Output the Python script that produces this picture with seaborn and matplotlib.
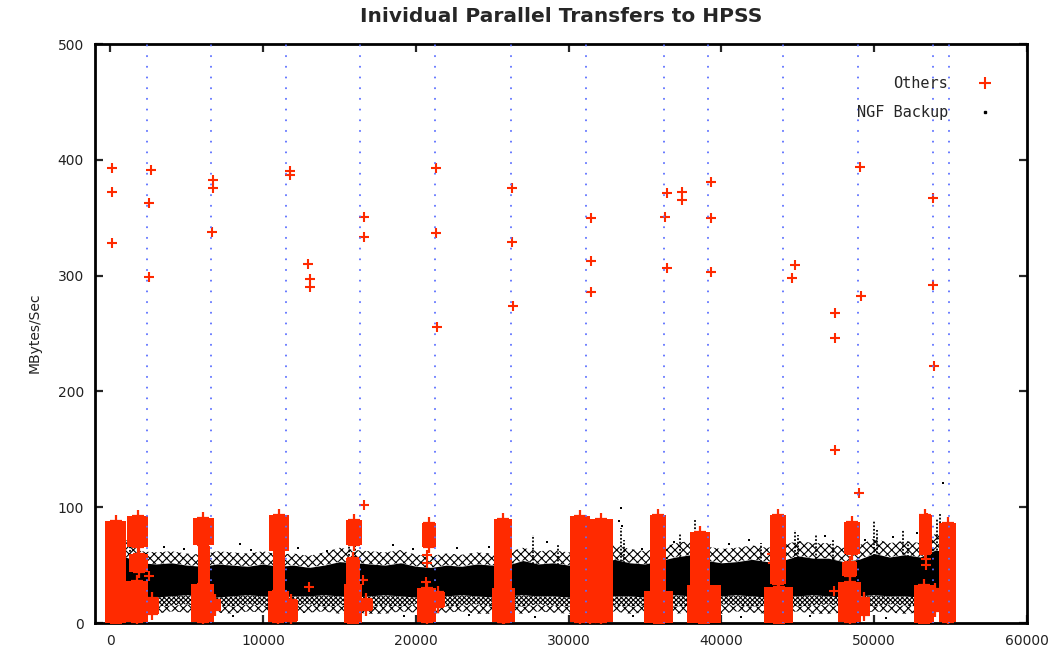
import numpy as np
import pandas as pd
import matplotlib
matplotlib.use('Agg')
import matplotlib.pyplot as plt
from matplotlib.lines import Line2D
import seaborn as sns

# ---- Others: single transfers well above the backup band (x = transfer #, y = MB/s)
others_x = [100, 100, 100, 2640, 2520, 2540, 6710, 6700, 6680, 11760, 11760,
            12960, 13040, 13040, 16580, 16580, 16620, 21330, 21330, 21400,
            26310, 26310, 26350, 31450, 31450, 31450, 36450, 36320, 36450,
            37450, 37450, 39310, 39310, 39310, 44810, 44590, 47450, 47430, 47450,
            49100, 49140, 49020, 53860, 53860, 53900,
            2550, 13020, 16560, 20700, 20700, 20650, 38400, 43300, 43350,
            47380, 53400, 53400, 53470]
others_y = [393, 372, 328, 391, 363, 299, 383, 376, 338, 390, 387,
            310, 297, 290, 351, 333, 102, 393, 337, 256,
            376, 329, 274, 350, 313, 286, 371, 351, 307,
            372, 365, 381, 350, 303, 309, 298, 268, 246, 149,
            394, 282, 112, 367, 292, 222,
            41, 31, 37, 59, 52, 35, 37, 60, 52,
            28, 55, 50, 91]

# ---- Others: dense bursts of transfers, read as vertical blocks (centre, width, low, high)
burst_x = [350, 1800, 1850, 1750, 2700, 6100, 6150, 6050, 6850, 11050, 11050,
           11000, 11800, 15950, 15900, 15900, 16750, 20850, 20700, 21450, 25700,
           25750, 30770, 32130, 31370, 35850, 35900, 38600, 38850, 43700, 43750,
           48550, 48400, 48400, 49300, 53350, 53250, 54000, 54800]
burst_w = [1350, 1400, 1200, 1500, 1000, 1400, 800, 1500, 800, 1300, 800,
           1400, 1000, 1100, 900, 1200, 900, 900, 1300, 900, 1200,
           1500, 1300, 1600, 300, 1100, 1900, 1300, 2200, 1100, 1900,
           1100, 1000, 1500, 900, 900, 1300, 800, 1100]
burst_lo = [0, 66, 44, 1, 8, 67, 33, 1, 11, 62, 28,
            1, 2, 67, 30, 0, 11, 66, 1, 14, 1,
            1, 1, 1, 1, 28, 0, 31, 0, 34, 0,
            60, 41, 1, 7, 60, 0, 10, 1]
burst_hi = [88, 92, 60, 36, 22, 91, 66, 34, 20, 93, 62,
            28, 20, 89, 56, 34, 21, 86, 30, 27, 90,
            30, 92, 90, 80, 93, 28, 79, 33, 93, 31,
            87, 53, 35, 22, 93, 33, 29, 86]

# ---- NGF Backup: the dense cloud, read per 1000 transfers
band_x = list(range(0, 56000, 1000))
top_sparse = [64, 72, 62, 61, 62, 60, 59, 62,
              61, 60, 62, 59, 60, 58, 61, 65,
              63, 62, 61, 63, 59, 58, 60, 59,
              61, 60, 61, 65, 62, 63, 61, 62,
              63, 67, 64, 62, 65, 69, 71, 66,
              64, 65, 67, 65, 67, 71, 69, 69,
              65, 67, 73, 69, 71, 69, 77, 73]
top_solid = [53, 57, 52, 51, 52, 50, 49, 51,
             50, 49, 51, 49, 50, 48, 50, 53,
             52, 51, 50, 52, 49, 48, 50, 49,
             51, 50, 50, 54, 51, 52, 50, 51,
             52, 55, 52, 51, 54, 57, 59, 54,
             52, 53, 55, 53, 54, 58, 56, 56,
             53, 55, 60, 57, 59, 57, 63, 61]
bot_solid = [23, 24, 23, 22, 23, 24, 23, 22,
             23, 24, 23, 22, 23, 23, 24, 23,
             22, 23, 24, 23, 22, 23, 23, 24,
             23, 22, 23, 24, 23, 23, 22, 23,
             24, 23, 23, 22, 23, 24, 23, 22,
             23, 24, 23, 22, 23, 23, 24, 23,
             22, 23, 24, 23, 23, 22, 23, 24]
bot_mixed = [15, 16, 15, 14, 15, 16, 14, 15,
             14, 16, 15, 14, 15, 16, 14, 15,
             16, 14, 15, 14, 16, 15, 14, 15,
             16, 14, 15, 14, 16, 15, 14, 15,
             16, 15, 14, 15, 16, 14, 15, 14,
             16, 15, 14, 15, 16, 14, 15, 16,
             14, 15, 14, 16, 15, 14, 15, 16]
bot_sparse = [9, 10, 9, 8, 10, 9, 8, 9,
              8, 10, 9, 8, 8, 9, 10, 8,
              9, 8, 8, 10, 9, 8, 9, 10,
              8, 8, 9, 8, 10, 9, 8, 9,
              8, 10, 8, 9, 10, 8, 9, 8,
              8, 10, 9, 8, 9, 10, 8, 8,
              9, 8, 10, 9, 8, 9, 10, 8]

# streaks sticking out of the top of the cloud
spike_x = [900, 1300, 15600, 16000, 27650, 29300, 33450, 33600, 37300, 38300, 42600,
           44800, 45000, 46200, 47300, 50000, 50200, 51900, 52200, 54100, 54300, 54500]
spike_base = [52, 55, 52, 50, 51, 50, 50, 52, 56, 56, 53,
              55, 56, 55, 54, 58, 57, 56, 57, 60, 61, 61]
spike_top = [85, 78, 77, 70, 76, 68, 82, 72, 77, 89, 69,
             80, 76, 77, 72, 89, 80, 80, 70, 90, 95, 85]

# loose backup points outside the cloud
ngf_x = [1500, 3500, 4800, 8500, 9200, 12300, 14200, 18500, 19800, 22700, 24800,
         28600, 33300, 33500, 34800, 36900, 40500, 41800, 43800, 46800, 49400,
         51200, 52800, 53500, 54500, 33450,
         8000, 11900, 19200, 23500, 27800, 34200, 41300, 45800, 50800]
ngf_y = [75, 66, 64, 68, 63, 65, 62, 67, 64, 65, 66,
         70, 88, 84, 64, 70, 68, 72, 74, 75, 72,
         74, 78, 82, 121, 99,
         6, 5, 6, 7, 5, 6, 5, 6, 4]

# day boundaries (blue dotted)
day_x = [2400, 6560, 11520, 16360, 21260, 26200, 31150, 36240, 39090,
         44030, 48970, 53840, 54890]

red = '#ff2a00'
blue = '#5a6eff'

sns.set_style('ticks')
plt.rcParams['font.family'] = ['DejaVu Sans']
plt.rcParams['hatch.linewidth'] = 0.8

fig = plt.figure(figsize=(10.58, 6.53), dpi=100)
ax = fig.add_axes([0.0898, 0.0459, 0.8809, 0.8867])

# backup cloud: speckled fringes round a solid core
ax.fill_between(band_x, top_solid, top_sparse, facecolor='white', edgecolor='black',
                hatch='xxxx', linewidth=0, zorder=1)
ax.fill_between(band_x, bot_solid, top_solid, facecolor='black', edgecolor='black',
                linewidth=0, zorder=1)
ax.fill_between(band_x, bot_mixed, bot_solid, facecolor='white', edgecolor='black',
                hatch='xxxxxxx', linewidth=0, zorder=1)
ax.fill_between(band_x, bot_sparse, bot_mixed, facecolor='white', edgecolor='black',
                hatch='xxxx', linewidth=0, zorder=1)
ax.vlines(spike_x, spike_base, spike_top, colors='black', linewidth=1.3,
          linestyles=(0, (1, 1)), zorder=2)
ngf = pd.DataFrame({'x': ngf_x, 'y': ngf_y})
sns.scatterplot(data=ngf, x='x', y='y', marker='s', s=4, color='black',
                linewidth=0, ax=ax, zorder=2, legend=False)

# others
ax.bar(burst_x, np.subtract(burst_hi, burst_lo), bottom=burst_lo, width=burst_w,
       color=red, linewidth=0, zorder=3)
ends = pd.DataFrame({'x': burst_x + burst_x, 'y': burst_hi + burst_lo})
sns.scatterplot(data=ends, x='x', y='y', marker='+', s=70, color=red,
                linewidth=1.6, ax=ax, zorder=3, legend=False)
oth = pd.DataFrame({'x': others_x, 'y': others_y})
sns.scatterplot(data=oth, x='x', y='y', marker='+', s=60, color=red,
                linewidth=1.5, ax=ax, zorder=4, legend=False)

for d in day_x:
    ax.axvline(d, color=blue, linewidth=1.4, linestyle=(0, (0.1, 5.4)),
               dash_capstyle='round', zorder=5)

ax.set_xlim(-1000, 60000)
ax.set_ylim(0, 500)
ax.set_xticks(range(0, 60001, 10000))
ax.set_yticks(range(0, 501, 100))
ax.set_xlabel('')
ax.set_ylabel('')
ax.tick_params(direction='in', length=6, width=1.6, top=True, right=True,
               labelsize=10, pad=8, labelcolor='#222222')
for sp in ax.spines.values():
    sp.set_linewidth(2)
    sp.set_color('black')
    sp.set_visible(True)

handles = [Line2D([], [], linestyle='none', marker='+', color=red, markersize=8,
                  markeredgewidth=1.5),
           Line2D([], [], linestyle='none', marker='s', color='black', markersize=1.5)]
ax.legend(handles, ['Others', 'NGF Backup'], loc='upper right',
          bbox_to_anchor=(0.971, 0.945), frameon=False, markerfirst=False,
          prop={'family': 'DejaVu Sans Mono', 'size': 11}, handlelength=2,
          handletextpad=1.4, labelspacing=0.95, borderpad=0, borderaxespad=0)

fig.text(561 / 1058, 1 - 17 / 653, 'Inividual Parallel Transfers to HPSS',
         ha='center', va='center', fontsize=14.5, fontweight='bold')
fig.text(35 / 1058, 1 - 333 / 653, 'MBytes/Sec', rotation=90, ha='center',
         va='center', fontsize=10, color='#222222')

fig.savefig('out.png', dpi=100)
